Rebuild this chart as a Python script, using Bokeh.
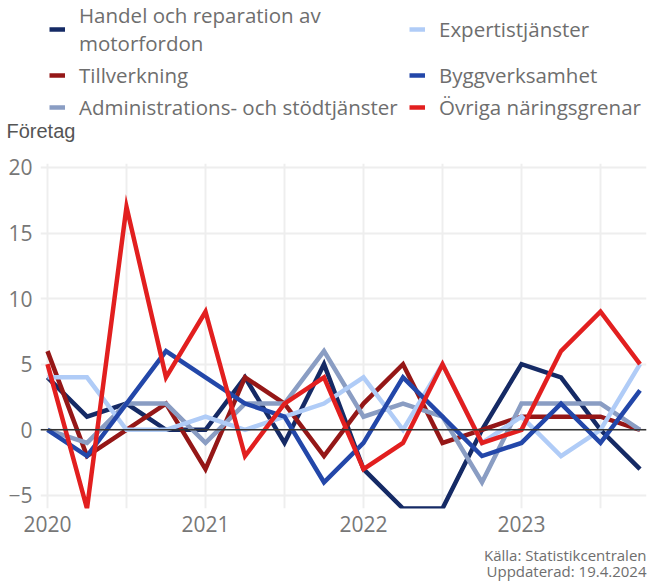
from bokeh.plotting import figure
from bokeh.layouts import column
from bokeh.models import FixedTicker, Legend, LegendItem, Span, Range1d, Label
from bokeh.embed import file_html
from bokeh.resources import INLINE

# Quarters 2020Q1 .. 2023Q4 as decimal years
quarters = [2020.0, 2020.25, 2020.5, 2020.75,
            2021.0, 2021.25, 2021.5, 2021.75,
            2022.0, 2022.25, 2022.5, 2022.75,
            2023.0, 2023.25, 2023.5, 2023.75]

handel = [4, 1, 2, 0, 0, 4, -1, 5, -3, -6, -6, 0, 5, 4, 0, -3]
tillverkning = [6, -2, 0, 2, -3, 4, 2, -2, 2, 5, -1, 0, 1, 1, 1, 0]
administration = [0, -1, 2, 2, -1, 2, 2, 6, 1, 2, 1, -4, 2, 2, 2, 0]
expertis = [4, 4, 0, 0, 1, 0, 1, 2, 4, 0, 5, -1, 1, -2, 0, 5]
bygg = [0, -2, 2, 6, 4, 2, 1, -4, -1, 4, 1, -2, -1, 2, -1, 3]
ovriga = [5, -6, 17, 4, 9, -2, 2, 4, -3, -1, 5, -1, 0, 6, 9, 5]

series_names = ["Handel och reparation av\nmotorfordon", "Tillverkning",
                "Administrations- och stödtjänster", "Expertistjänster",
                "Byggverksamhet", "Övriga näringsgrenar"]
series_values = [handel, tillverkning, administration, expertis, bygg, ovriga]
series_colors = ["#152a65", "#951717", "#8a9dc3", "#b0ccf7", "#2347a9", "#e21f1f"]

year_ticks = [2020, 2021, 2022, 2023]
half_year_ticks = [2020.5, 2021.5, 2022.5, 2023.5]
y_ticks = [-5, 0, 5, 10, 15, 20]

y_title = "Företag"
caption_lines = ["Källa: Statistikcentralen", "Uppdaterad: 19.4.2024"]

FONT = "Open Sans"
GREY = "#6e6e6e"
W = 648
TOTAL_H = 581

# ---------------- header (legend + unit title) ----------------
HEAD_H = 151
head = figure(width=W, height=HEAD_H, output_backend="svg", toolbar_location=None,
              x_axis_type=None, y_axis_type=None, min_border=0,
              x_range=Range1d(0, 1), y_range=Range1d(0, 1))
head.frame_align = False
head.outline_line_color = None
head.grid.visible = False

items = []
for name, vals, col in zip(series_names, series_values, series_colors):
    # same series drawn outside the header's visible range: only the legend swatch shows
    r = head.line(quarters, vals, line_color=col, line_width=4.5)
    items.append(LegendItem(label=name, renderers=[r]))

legend_h = 117
legend = Legend(items=items, ncols=2, orientation="vertical",
                location=(49, HEAD_H - legend_h - 4),
                label_text_font=FONT, label_text_font_size="20.5px",
                label_text_color=GREY, glyph_width=16, glyph_height=16,
                label_standoff=14, spacing=4, padding=0, margin=0,
                label_width=326,
                border_line_color=None, background_fill_alpha=0)
head.add_layout(legend, "center")
head.add_layout(Label(x=6, y=HEAD_H - 130, x_units="screen", y_units="screen",
                      text=y_title, text_font="Liberation Sans", text_font_size="20px",
                      text_color="#555555", text_baseline="middle", text_align="left"))

# ---------------- main chart ----------------
TOP, LEFT, RIGHT, BOTTOM = 12, 40, 2, 28
FRAME_H = 345
main = figure(width=W, height=TOP + FRAME_H + BOTTOM, output_backend="svg",
              toolbar_location=None,
              x_range=Range1d(2019.9557, 2023.7911), y_range=Range1d(-6, 20.3),
              min_border_left=LEFT, min_border_right=RIGHT,
              min_border_top=TOP, min_border_bottom=BOTTOM)
main.outline_line_color = None
main.background_fill_color = "white"
main.border_fill_color = "white"

main.xaxis.ticker = FixedTicker(ticks=year_ticks, minor_ticks=half_year_ticks)
main.xaxis.major_label_overrides = {t: str(t) for t in year_ticks}
main.yaxis.ticker = FixedTicker(ticks=y_ticks)
for ax in (main.xaxis[0], main.yaxis[0]):
    ax.axis_line_color = None
    ax.major_tick_line_color = None
    ax.minor_tick_line_color = None
    ax.major_tick_out = 0
    ax.major_tick_in = 0
    ax.minor_tick_out = 0
    ax.minor_tick_in = 0
    ax.major_label_text_font = FONT
    ax.major_label_text_font_size = "21px"
    ax.major_label_text_color = "#777777"
main.xaxis.major_label_standoff = 7
main.yaxis.major_label_standoff = 8

main.xgrid.grid_line_color = "#eeeeee"
main.xgrid.grid_line_width = 2
main.xgrid.minor_grid_line_color = "#eeeeee"
main.xgrid.minor_grid_line_width = 2
main.ygrid.grid_line_color = "#eeeeee"
main.ygrid.grid_line_width = 2

main.add_layout(Span(location=0, dimension="width", line_color="#333333", line_width=1.5))

for vals, col in zip(series_values, series_colors):
    main.line(quarters, vals, line_color=col, line_width=4.5, line_join="miter")

# ---------------- footer (source note) ----------------
FOOT_H = TOTAL_H - HEAD_H - (TOP + FRAME_H + BOTTOM)
foot = figure(width=W, height=FOOT_H, output_backend="svg", toolbar_location=None,
              x_axis_type=None, y_axis_type=None, min_border=0,
              x_range=Range1d(0, 1), y_range=Range1d(0, 1))
foot.frame_align = False
foot.outline_line_color = None
foot.grid.visible = False
for i, line in enumerate(caption_lines):
    foot.add_layout(Label(x=646, y=FOOT_H - (18 + 16 * i), x_units="screen", y_units="screen",
                          text=line, text_font=FONT, text_font_size="15px",
                          text_color=GREY, text_baseline="middle", text_align="right"))

layout = column(head, main, foot, spacing=0)
open("out.html", "w").write(file_html(layout, INLINE))
